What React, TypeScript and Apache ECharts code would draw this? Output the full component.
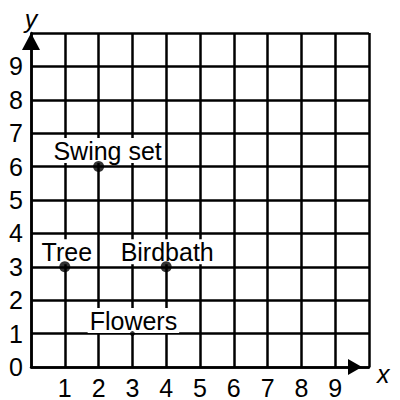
import React, { useEffect, useRef } from "react";
import * as echarts from "echarts";

const xTickLabels = ["", "1", "2", "3", "4", "5", "6", "7", "8", "9", ""];
const yTickLabels = ["0", "1", "2", "3", "4", "5", "6", "7", "8", "9", ""];
const placeNames = ["Tree", "Swing set", "Birdbath", "Flowers"];
const placeX = [1, 2, 4, 3];
const placeY = [3, 6, 3, 1];

const FONT = "'Liberation Sans', Arial, sans-serif";

export default function App() {
  const ref = useRef<HTMLDivElement>(null);
  useEffect(() => {
    if (!ref.current) return;
    const chart = echarts.init(ref.current, null, { renderer: "svg" });
    const labelOffsets: Record<string, number[]> = {
      Tree: [2, -15],
      "Swing set": [9, -16],
      Birdbath: [1, -15],
      Flowers: [1, -13],
    };
    const dotSizes: Record<string, number> = {
      Tree: 11,
      "Swing set": 11,
      Birdbath: 11,
      Flowers: 5,
    };
    const labelData = placeNames.map((n, i) => ({
      name: n,
      value: [placeX[i], placeY[i]],
      label: { offset: labelOffsets[n] },
    }));
    const dotData = placeNames.map((n, i) => ({
      name: n,
      value: [placeX[i], placeY[i]],
      symbolSize: dotSizes[n],
    }));
    const lineStyle = { color: "#000", width: 2.5 };
    chart.setOption({
      animation: false,
      grid: { left: 31, right: 31, top: 33, bottom: 31 },
      xAxis: {
        type: "value",
        min: 0,
        max: 10,
        interval: 1,
        name: "{a|x}",
        nameLocation: "end",
        nameGap: 8,
        nameTextStyle: {
          fontStyle: "italic",
          fontSize: 25,
          color: "#000",
          fontFamily: FONT,
          verticalAlign: "middle",
          rich: {
            a: {
              fontStyle: "italic",
              fontSize: 25,
              color: "#000",
              fontFamily: FONT,
              padding: [14, 0, 0, 0],
            },
          },
        },
        axisLine: {
          show: true,
          lineStyle,
          symbol: ["none", "triangle"],
          symbolSize: [16, 14],
          symbolOffset: [0, -14],
        },
        axisTick: { show: false },
        axisLabel: {
          margin: 8,
          fontSize: 25,
          color: "#000",
          fontFamily: FONT,
          formatter: (v: number) => xTickLabels[Math.round(v)] ?? "",
        },
        splitLine: { show: true, lineStyle },
      },
      yAxis: {
        type: "value",
        min: 0,
        max: 10,
        interval: 1,
        name: "y",
        nameLocation: "end",
        nameGap: 2,
        nameTextStyle: {
          fontStyle: "italic",
          fontSize: 25,
          color: "#000",
          fontFamily: FONT,
        },
        axisLine: {
          show: true,
          lineStyle,
          symbol: ["none", "triangle"],
          symbolSize: [18, 17],
          symbolOffset: [0, -8.5],
        },
        axisTick: { show: false },
        axisLabel: {
          margin: 8,
          fontSize: 25,
          color: "#000",
          fontFamily: FONT,
          formatter: (v: number) => yTickLabels[Math.round(v)] ?? "",
        },
        splitLine: { show: true, lineStyle },
      },
      series: [
        {
          type: "scatter",
          z: 2,
          data: labelData,
          symbolSize: 0,
          itemStyle: { color: "transparent" },
          label: {
            show: true,
            position: "inside",
            formatter: "{b}",
            fontSize: 25,
            lineHeight: 25,
            color: "#000",
            opacity: 1,
            textBorderWidth: 0,
            textShadowBlur: 0,
            fontFamily: FONT,
            backgroundColor: "#fff",
            padding: [0, 2],
          },
          emphasis: { disabled: true },
          silent: true,
        },
        {
          type: "scatter",
          z: 5,
          data: dotData,
          itemStyle: { color: "#000" },
          emphasis: { disabled: true },
        },
      ],
    });
    return () => chart.dispose();
  }, []);
  return (
    <div
      ref={ref}
      style={{ position: "fixed", left: 0, top: 0, width: 400, height: 400, background: "#fff" }}
    />
  );
}
